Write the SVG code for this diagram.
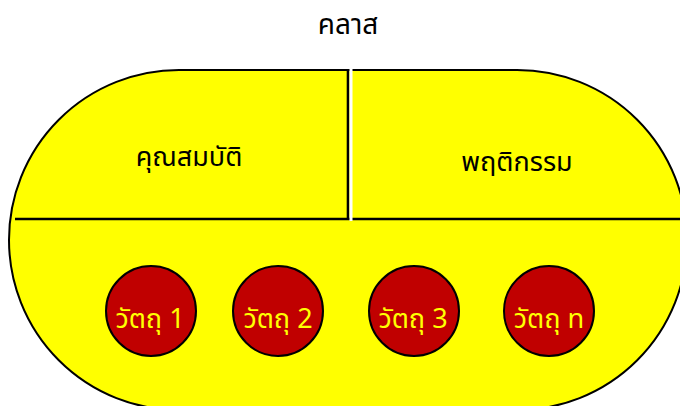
<svg xmlns="http://www.w3.org/2000/svg" width="680" height="406" viewBox="0 0 680 406">
<style>
text{font-family:"Noto Sans","Noto Sans Thai","DejaVu Sans",sans-serif;text-anchor:middle}
.lbl{fill:#000;font-size:27px}
.obj circle{fill:#C00000;stroke:#000;stroke-width:2}
.obj text{fill:#FFFF00;font-size:27px}
</style>
<rect width="680" height="406" fill="#fff"/>
<g id="title"><text class="lbl" x="348" y="34" style="font-size:28px">คลาส</text></g>
<g id="class">
<path d="M179,70 H517 A170,170 0 0 1 517,410 H179 A170,170 0 0 1 179,70 Z" fill="#FFFF00" stroke="#000" stroke-width="2"/>
</g>
<g id="connectors">
<line x1="15" y1="219" x2="680" y2="219" stroke="#000" stroke-width="2.6"/>
<line x1="348" y1="70" x2="348" y2="220" stroke="#000" stroke-width="2.6"/>
<rect x="349.5" y="68" width="3" height="153" fill="#fff"/>
</g>
<g id="attributes"><text class="lbl" x="189" y="166">คุณสมบัติ</text></g>
<g id="behavior"><text class="lbl" x="517" y="171">พฤติกรรม</text></g>
<g id="obj1" class="obj"><circle cx="151" cy="311" r="45"/><text x="150" y="328">วัตถุ 1</text></g>
<g id="obj2" class="obj"><circle cx="278" cy="311" r="45"/><text x="278" y="328">วัตถุ 2</text></g>
<g id="obj3" class="obj"><circle cx="414" cy="311" r="45"/><text x="413" y="328">วัตถุ 3</text></g>
<g id="objn" class="obj"><circle cx="549" cy="311" r="45"/><text x="549" y="328">วัตถุ n</text></g>
</svg>
